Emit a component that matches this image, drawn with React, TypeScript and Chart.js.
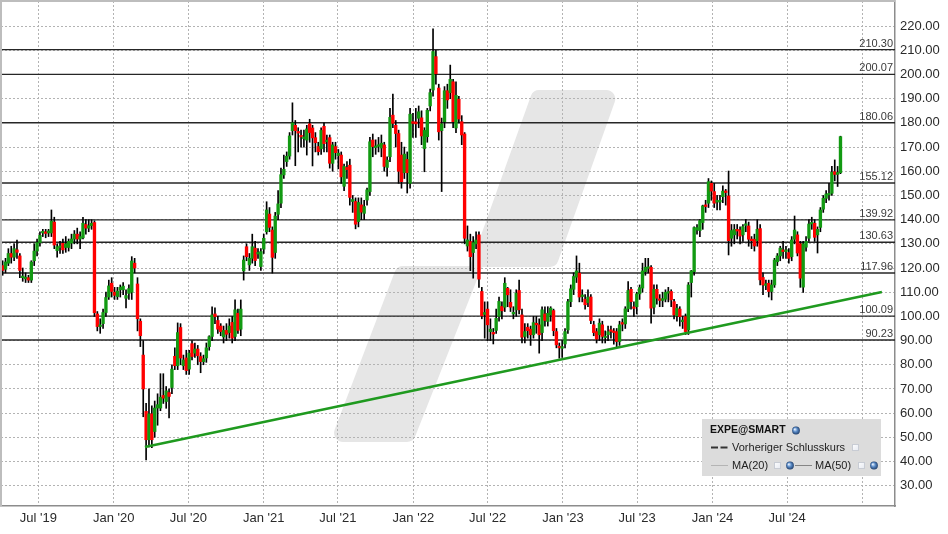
import { useEffect, useRef } from "react";
import { Chart, registerables } from "chart.js";

Chart.register(...registerables);

// ---------- DATA ----------
const firstWeek = "2019-04-05";
const xStart = "2019-04-01";
const xEnd = "2025-03-21";

const open = [
  121, 119.5, 122, 126, 124.5, 127.5, 125, 116, 115.5, 116,
  115, 123, 127, 130.5, 134.5, 134.8, 134.5, 134.5, 139, 127.2,
  128.5, 130.2, 128.5, 128.5, 130.3, 132, 134, 132, 132.5, 138,
  136.5, 137.5, 138.8, 101, 95.8, 97, 101.6, 108, 113.7, 110,
  108.2, 111, 111, 107.5, 109.5, 110, 122, 113.4, 98, 84,
  60.7, 49, 59.7, 52.4, 62.1, 62.1, 67.3, 64.8, 68.5, 70.6,
  83.5, 79.6, 95.4, 79.6, 82.8, 78.2, 88.7, 84.8, 86.5, 83.4,
  81.3, 82.8, 87.5, 91.7, 101, 98.3, 96, 91.5, 94.2, 93.3,
  97.5, 91.7, 101.3, 94.7, 118.8, 128.8, 121.3, 124, 128.2, 125.8,
  120.6, 127.8, 135, 142.3, 135.7, 126.4, 142.2, 146.8, 158.5, 164,
  166.3, 176.8, 179, 176.4, 174.8, 173.5, 172.9, 179.6, 177.9, 173.9,
  170.2, 169.3, 178.6, 172.2, 173.9, 163.3, 170.2, 166.5, 166.7, 153.8,
  161.6, 162.5, 147.5, 147.5, 139.2, 146.1, 142.6, 148.1, 151.6, 172.9,
  169.8, 170.3, 169.6, 170.9, 161.6, 166, 183.2, 179, 175.6, 166.7,
  159.4, 164.9, 155, 180.5, 180.4, 181.9, 182.1, 169.4, 174.3, 187,
  193.6, 207.4, 194.4, 176.8, 180.5, 193.3, 192.5, 197, 177.9, 189.8,
  180.5, 175.4, 129.1, 130.9, 126.4, 130, 133.7, 110.3, 100.8, 103,
  93.7, 93.2, 94.2, 100, 104.1, 103.8, 111.6, 105.8, 101, 102.7,
  110.7, 100.6, 91.7, 95.5, 94.7, 92.4, 96.8, 96.5, 93.3, 101,
  97.9, 100.6, 102.4, 93.7, 87.6, 86.8, 88.6, 94.4, 106.1, 111.2,
  116.2, 117.9, 108.2, 107.1, 105.7, 108, 96.5, 93.7, 92.4, 96.5,
  91.2, 92.4, 94.2, 93.7, 93.7, 89.6, 97.2, 96.9, 103.1, 111.2,
  103.8, 104, 109.3, 111.7, 118.5, 119.8, 120.3, 103.8, 111.2, 107,
  106.6, 107.1, 109.6, 110.3, 106.1, 100.2, 103, 97.8, 99.9, 94.4,
  114, 118.5, 135.7, 135.5, 138.8, 146.1, 146.8, 155, 151.6, 147.3,
  147.3, 149.5, 151.8, 149.8, 132.3, 133.7, 135.9, 135.7, 133.7, 137.6,
  137.4, 131.8, 131.9, 131.3, 136.3, 116.1, 112.8, 113.7, 110.3, 113,
  122.6, 125, 127.4, 126.8, 126.4, 124.7, 131.9, 133.7, 130, 112.1,
  128.6, 132.3, 138.2, 138.5, 133.7, 136.8, 144.3, 148.8, 150.2, 150.9,
  159.8, 158.7, 159.4,
];
const high = [
  123, 124, 128, 129, 130, 131.5, 126, 120, 118, 117,
  123, 130, 132, 135, 136, 136, 136, 144, 141, 130,
  131, 132, 133, 132, 134, 135.5, 136.5, 135, 141, 140,
  140, 140, 139.5, 102, 99, 103, 110, 115, 116, 112,
  112, 113, 114, 111, 113, 124.7, 124, 116, 99, 90,
  64, 70, 63, 65, 68, 76.3, 76.3, 71, 70, 80,
  87, 97.3, 97, 84, 86, 86, 90, 89, 88, 85,
  84, 89, 92, 104, 103.5, 100, 97, 96, 97, 99,
  100, 106.8, 103, 106.8, 125, 130, 126, 134, 131, 128,
  128, 134, 147.4, 145, 137, 143, 152, 161.3, 166.7, 168,
  176, 188.3, 181, 178, 177, 177, 179, 181.5, 179, 176,
  172, 178, 180, 175, 175, 172, 172, 169, 168, 163,
  164, 165, 150, 149, 149, 149, 148, 153, 174, 175.4,
  173, 174, 175, 172, 166, 186, 191.9, 181, 177, 172,
  170, 168, 186, 184, 186, 187, 185, 178, 186, 194,
  218.9, 210, 196, 182, 195, 196, 203.9, 198, 197, 191,
  183, 176, 137.4, 134, 133, 135, 135, 112, 106, 106,
  99, 95, 103, 108, 106, 116, 112, 111, 104, 111,
  115, 103, 97, 97, 96, 100, 100, 99, 104, 104,
  104, 104, 103, 95, 89, 90, 95, 107, 113, 118,
  125, 122, 111, 109, 111, 109, 98, 95, 99, 98,
  94, 96, 96, 95, 95, 98, 99, 104, 114.4, 112,
  106, 110, 113, 122, 124, 124, 121, 113, 113, 109,
  110, 111, 112, 111, 107, 105, 104, 100, 101, 114,
  119, 137, 138, 140, 146, 148, 157, 156, 155, 150,
  150, 154, 152.5, 160.1, 138, 138, 138, 137, 138, 140.1,
  139, 133, 134, 140, 138, 118, 115, 115, 115, 124,
  126, 129, 131, 129, 128, 133, 141.5, 135, 131, 131,
  133, 140, 141, 140, 137, 145, 150, 152, 155, 162,
  164.7, 162, 174.5,
];
const low = [
  117, 118, 121, 122, 123, 124, 116, 114.5, 114, 114,
  114, 121, 125, 129, 133, 132.5, 133, 133, 128, 124.5,
  126, 126, 126.5, 127, 128, 130, 130, 128, 132, 134,
  135, 136, 100, 94, 93, 95, 100, 107, 108, 107,
  107, 108, 109, 103.5, 107, 107, 118, 94, 87.5, 58.5,
  40.7, 46, 45.7, 50, 55, 61, 64, 62, 58, 68,
  78, 78, 80, 78, 76, 76, 82, 83, 80, 76.7,
  80, 81, 86, 90, 97, 93, 92, 89, 90, 91,
  89, 90, 93, 92, 115, 123, 119, 122, 121, 124,
  119, 126, 134, 135, 117.9, 124, 140, 145, 157, 162,
  165, 175, 162.3, 168, 170, 170, 166.7, 172, 162.2, 168,
  166.7, 167, 168, 168, 161.3, 160, 165, 161, 155, 152,
  157, 146, 143, 136.2, 137, 140, 140, 146, 150, 166,
  167, 168, 166, 160, 158, 164, 178, 170, 155, 153,
  157, 151, 153, 174, 174, 178, 171, 159.8, 172, 185,
  191, 196, 172.9, 151.6, 178, 186, 190, 178, 176, 180,
  171, 130, 127, 118.9, 115.8, 128, 112, 99, 91, 90,
  90, 88.6, 93, 98, 99, 102, 104, 102, 99, 100,
  101, 89, 89, 91, 88, 91, 93, 84.8, 90, 96,
  96, 98, 92, 87, 82.7, 83, 87, 93, 104, 109,
  114, 106, 106, 103, 104, 97, 92, 89, 90, 89,
  89, 90, 91, 88.5, 87, 88, 94, 95, 102, 103,
  100, 101, 107, 110, 117, 118, 97.2, 101, 105, 104,
  104, 106, 106, 104, 99, 98, 96, 95, 92.5, 92.5,
  108, 117, 134, 133, 136, 143, 145, 148, 145, 144,
  144, 147, 146, 125.4, 129, 130, 132, 130, 131, 135,
  129, 128, 127, 129, 113, 109, 111, 108, 106.8, 112,
  121, 123, 124, 124, 122, 123, 130, 125, 112, 109.9,
  127, 131, 136, 131, 126.2, 135, 143, 147, 148, 150,
  156, 153.7, 159,
];
const close = [
  119, 122.5, 126, 124.5, 128, 126.5, 119, 116.5, 116.2, 115,
  122.5, 127, 130.5, 133.5, 135, 134.3, 135.3, 139.4, 129.5, 128.8,
  129, 127.5, 130, 131, 132, 134, 132, 133, 138.5, 136.5,
  137.5, 138.5, 101.5, 95.8, 96.5, 101.6, 107.8, 112.6, 110.3, 108.7,
  110.5, 112, 112.5, 108.6, 111.5, 122.9, 120, 99, 92, 70,
  49, 59.7, 49, 62.1, 63.5, 66.6, 66.2, 69.2, 66.9, 78.2,
  79.6, 93.3, 82.8, 82, 77.6, 84.8, 83.4, 86.5, 83.7, 81.3,
  82.5, 87, 91.6, 100.6, 99.9, 94.7, 93.7, 94.2, 92.6, 96,
  91, 102.7, 94.2, 103, 123.3, 124.7, 124, 128.8, 123.1, 126.2,
  126.8, 132.3, 144, 136.8, 124.4, 141.5, 146.5, 158.6, 160.8, 166.2,
  174.6, 180, 176.8, 175.8, 174.2, 174.2, 177.5, 176, 173.8, 171.8,
  168.1, 176.9, 171.4, 172.8, 163.3, 170.9, 167.7, 167.5, 157.7, 162,
  160.7, 149.2, 148.3, 138.1, 147.1, 143.1, 145.4, 152.3, 172.2, 170.2,
  170.3, 170.8, 171.6, 162, 164.6, 182.3, 179.8, 175.6, 160, 155.7,
  167.1, 159.4, 183.6, 179.8, 179.6, 184.6, 174.6, 176.9, 185.2, 192.5,
  209.5, 200.3, 176.3, 179.6, 193.3, 189.5, 198, 180.5, 191.4, 181.6,
  175, 132.3, 131.6, 124.7, 130.5, 131.6, 115.4, 100.2, 101.6, 96.5,
  94.7, 92.7, 99.2, 106.2, 102.3, 113.7, 108.9, 103.8, 101.4, 109.6,
  102.7, 91.4, 93.7, 94.1, 92.4, 97.4, 96.5, 92.4, 102.7, 98.3,
  101.3, 103.4, 94.1, 88.2, 87, 87.5, 93.7, 106.1, 111.4, 116.5,
  118.8, 108, 108.7, 104.8, 108, 98.3, 93.3, 90.6, 97.2, 91.7,
  91.7, 93.7, 93.8, 93.3, 89.6, 96.5, 96.8, 103.1, 110.7, 106.1,
  103.3, 109.3, 111.9, 118.8, 120.3, 120.5, 103.4, 111.2, 107.5, 106.6,
  107.3, 109.9, 110.1, 106.8, 100.6, 103.4, 99.9, 98.2, 93.7, 113,
  118.8, 136.7, 136.7, 139.6, 145.7, 145.4, 155.7, 151.8, 146.8, 147.8,
  148, 151.8, 151.2, 131.3, 135.5, 136, 135.3, 133.2, 137.1, 138.2,
  131.9, 131.3, 129.1, 136, 115.1, 113, 113.2, 110.3, 113, 123.3,
  125, 128.2, 126.8, 127.3, 124, 131.6, 135.7, 126.2, 115.8, 130,
  131, 138.2, 138.8, 132.7, 136, 144, 148.8, 150.6, 150.6, 159.6,
  158.7, 159.5, 174.3,
];

const levelValues = [210.3, 200.07, 180.06, 155.12, 139.92, 130.63, 117.96, 100.09, 90.23];
const levelLabels = ["210.30", "200.07", "180.06", "155.12", "139.92", "130.63", "117.96", "100.09", "90.23"];

const trendDates = ["2020-03-17", "2025-02-17"];
const trendValues = [46, 110.1];

const yTicks = [30, 40, 50, 60, 70, 80, 90, 100, 110, 120, 130, 140, 150, 160, 170, 180, 190, 200, 210, 220];
const yMin = 21.6;
const yMax = 230.4;

const xTickDates = [
  "2019-07-01", "2020-01-01", "2020-07-01", "2021-01-01", "2021-07-01", "2022-01-01",
  "2022-07-01", "2023-01-01", "2023-07-01", "2024-01-01", "2024-07-01", "2025-01-01",
];
const xTickLabels = [
  "Jul '19", "Jan '20", "Jul '20", "Jan '21", "Jul '21", "Jan '22",
  "Jul '22", "Jan '23", "Jul '23", "Jan '24", "Jul '24", "",
];

const legendTitle = "EXPE@SMART";
const legendPrev = "Vorheriger Schlusskurs";
const legendMa20 = "MA(20)";
const legendMa50 = "MA(50)";

// ---------- helpers ----------
const DAY = 86400000;
const t = (s: string) => Date.parse(s + "T00:00:00Z");
const weekDates = open.map((_, i) => t(firstWeek) + i * 7 * DAY);

const FONT = '"Liberation Sans", Arial, sans-serif';
const GREEN = "#129a12";
const RED = "#ff0000";

function roundedPoly(ctx: CanvasRenderingContext2D, pts: number[][], r: number[]) {
  const n = pts.length;
  ctx.beginPath();
  const mid = (a: number[], b: number[]) => [(a[0] + b[0]) / 2, (a[1] + b[1]) / 2];
  const start = mid(pts[n - 1], pts[0]);
  ctx.moveTo(start[0], start[1]);
  for (let i = 0; i < n; i++) {
    const p = pts[i];
    const q = pts[(i + 1) % n];
    ctx.arcTo(p[0], p[1], q[0], q[1], r[i]);
  }
  ctx.closePath();
}

function drawGlobe(ctx: CanvasRenderingContext2D, cx: number, cy: number) {
  const g = ctx.createRadialGradient(cx - 1.3, cy - 1.3, 0.3, cx, cy, 4.2);
  g.addColorStop(0, "#e6f1ff");
  g.addColorStop(0.45, "#5b8cc8");
  g.addColorStop(1, "#1c3a66");
  ctx.fillStyle = g;
  ctx.beginPath();
  ctx.arc(cx, cy, 3.9, 0, Math.PI * 2);
  ctx.fill();
}

function drawCheck(ctx: CanvasRenderingContext2D, x: number, y: number) {
  const g = ctx.createLinearGradient(x, y, x + 7, y + 7);
  g.addColorStop(0, "#ffffff");
  g.addColorStop(1, "#e4e8f0");
  ctx.fillStyle = g;
  ctx.fillRect(x, y, 7, 7);
  ctx.strokeStyle = "#c8ccd4";
  ctx.lineWidth = 1;
  ctx.strokeRect(x + 0.5, y + 0.5, 6, 6);
}

const decoPlugin = {
  id: "deco",
  beforeDraw(chart: any) {
    const { ctx } = chart;
    ctx.save();
    ctx.fillStyle = "#ffffff";
    ctx.fillRect(0, 0, chart.width, chart.height);
    // watermark (stepped double slash)
    ctx.fillStyle = "#e6e6e6";
    const pts = [
      [533, 90], [619, 90], [556, 267], [482, 267],
      [413, 442], [330, 442], [397, 266], [470, 266],
    ];
    roundedPoly(ctx, pts, [9, 9, 9, 2, 9, 9, 9, 2]);
    ctx.fill();
    ctx.restore();
  },
  afterDatasetsDraw(chart: any) {
    const { ctx, chartArea } = chart;
    const y = chart.scales.y;
    ctx.save();
    ctx.font = `11px ${FONT}`;
    ctx.fillStyle = "#3a3a3a";
    ctx.textAlign = "right";
    ctx.textBaseline = "alphabetic";
    levelValues.forEach((v, i) => {
      const py = y.getPixelForValue(v);
      ctx.fillText(levelLabels[i], chartArea.right - 2, py - 3);
    });
    ctx.restore();
  },
  afterDraw(chart: any) {
    const { ctx, chartArea } = chart;
    ctx.save();
    // left & top frame
    ctx.strokeStyle = "#bdbdbd";
    ctx.lineWidth = 2;
    ctx.beginPath();
    ctx.moveTo(1, chartArea.bottom);
    ctx.lineTo(1, 1);
    ctx.lineTo(chartArea.right, 1);
    ctx.stroke();

    // legend box
    const bx = chartArea.right - 193;
    const by = chartArea.bottom - 87;
    ctx.fillStyle = "#dcdcdc";
    ctx.fillRect(bx, by, 179, 57);

    ctx.textAlign = "left";
    ctx.textBaseline = "middle";
    ctx.fillStyle = "#111";
    ctx.font = `bold 10.5px ${FONT}`;
    ctx.fillText(legendTitle, bx + 8, by + 11.5);
    drawGlobe(ctx, bx + 94, by + 11.5);

    // row 2
    ctx.strokeStyle = "#333";
    ctx.lineWidth = 2;
    ctx.setLineDash([7, 2.5]);
    ctx.beginPath();
    ctx.moveTo(bx + 9, by + 28.5);
    ctx.lineTo(bx + 27, by + 28.5);
    ctx.stroke();
    ctx.setLineDash([]);
    ctx.font = `11px ${FONT}`;
    ctx.fillStyle = "#222";
    ctx.fillText(legendPrev, bx + 30, by + 28.5);
    drawCheck(ctx, bx + 150, by + 25);

    // row 3
    ctx.strokeStyle = "#b4b4b4";
    ctx.beginPath();
    ctx.moveTo(bx + 9, by + 46.5);
    ctx.lineTo(bx + 26, by + 46.5);
    ctx.stroke();
    ctx.fillStyle = "#222";
    ctx.fillText(legendMa20, bx + 30, by + 46.5);
    drawCheck(ctx, bx + 72, by + 43);
    drawGlobe(ctx, bx + 88, by + 46.5);
    ctx.strokeStyle = "#858585";
    ctx.beginPath();
    ctx.moveTo(bx + 93, by + 46.5);
    ctx.lineTo(bx + 110, by + 46.5);
    ctx.stroke();
    ctx.fillStyle = "#222";
    ctx.fillText(legendMa50, bx + 113, by + 46.5);
    drawCheck(ctx, bx + 156, by + 43);
    drawGlobe(ctx, bx + 172, by + 46.5);
    ctx.restore();
  },
};

export default function App() {
  const ref = useRef<HTMLCanvasElement | null>(null);

  useEffect(() => {
    if (!ref.current) return;
    const xMin = t(xStart);
    const xMax = t(xEnd);

    const levelSets = levelValues.map((v) => ({
      type: "line" as const,
      data: [
        { x: xMin, y: v },
        { x: xMax, y: v },
      ],
      borderColor: "#262626",
      borderWidth: 1.4,
      pointRadius: 0,
      fill: false,
      order: 10,
    }));

    const wicks = {
      type: "bar" as const,
      data: weekDates.map((x, i) => ({ x, y: [low[i], high[i]] })),
      backgroundColor: "#000000",
      barThickness: 1,
      grouped: false,
      order: 5,
    };

    const bodies = {
      type: "bar" as const,
      data: weekDates.map((x, i) => ({ x, y: [open[i], close[i]] })),
      backgroundColor: weekDates.map((_, i) => (close[i] >= open[i] ? GREEN : RED)),
      barThickness: 2.7,
      minBarLength: 1.6,
      grouped: false,
      order: 2,
    };

    const trend = {
      type: "line" as const,
      data: trendDates.map((d, i) => ({ x: t(d), y: trendValues[i] })),
      borderColor: "#1f9a1f",
      borderWidth: 2.6,
      pointRadius: 0,
      fill: false,
      order: 0,
    };

    const chart = new Chart(ref.current, {
      type: "bar",
      data: { datasets: [...levelSets, wicks, bodies, trend] as any },
      plugins: [decoPlugin],
      options: {
        animation: false,
        responsive: false,
        events: [],
        layout: { padding: { left: 1, top: 1, right: 0, bottom: 0 } },
        plugins: { legend: { display: false }, tooltip: { enabled: false } },
        scales: {
          x: {
            type: "linear",
            min: xMin,
            max: xMax,
            offset: false,
            afterBuildTicks: (scale: any) => {
              scale.ticks = xTickDates.map((d) => ({ value: t(d) }));
            },
            afterFit: (scale: any) => {
              scale.height = 28;
              scale.paddingLeft = 0;
              scale.paddingRight = 0;
            },
            ticks: {
              autoSkip: false,
              maxRotation: 0,
              padding: 5,
              color: "#2a2a2a",
              font: { family: FONT, size: 13 },
              callback: (_v: any, i: number) => xTickLabels[i],
            },
            grid: {
              offset: false,
              color: "#b3b3b3",
              lineWidth: 1,
              drawTicks: false,
            },
            border: { color: "#8c8c8c", width: 1.5, dash: [2, 2] },
          } as any,
          y: {
            type: "linear",
            position: "right",
            min: yMin,
            max: yMax,
            afterBuildTicks: (scale: any) => {
              scale.ticks = yTicks.map((v) => ({ value: v }));
            },
            afterFit: (scale: any) => {
              scale.width = 53;
              scale.paddingTop = 0;
              scale.paddingBottom = 0;
            },
            ticks: {
              padding: 5,
              color: "#2a2a2a",
              font: { family: FONT, size: 13 },
              callback: (v: any) => Number(v).toFixed(2),
            },
            grid: {
              color: "#b3b3b3",
              lineWidth: 1,
              drawTicks: false,
            },
            border: { color: "#8c8c8c", width: 1.5, dash: [2, 2] },
          } as any,
        },
      },
    });

    return () => chart.destroy();
  }, []);

  return (
    <div style={{ position: "absolute", left: 0, top: 0, width: 948, height: 534, background: "#fff" }}>
      <canvas ref={ref} width={948} height={534} style={{ display: "block" }} />
    </div>
  );
}
